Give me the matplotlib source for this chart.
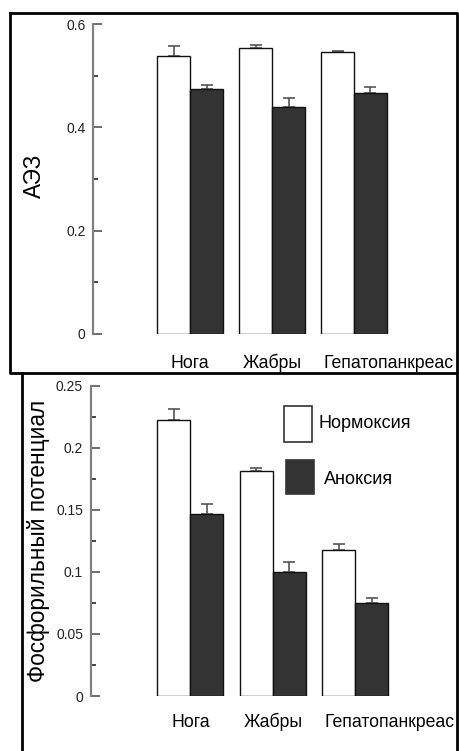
import matplotlib
matplotlib.use("Agg")
import matplotlib.pyplot as plt
import matplotlib.transforms as mtransforms
from matplotlib.patches import Rectangle
from matplotlib.lines import Line2D
from matplotlib import font_manager
import numpy as np

# ---------------- data ----------------
categories = ["Нога", "Жабры", "Гепатопанкреас"]
series_names = ["Нормоксия", "Аноксия"]

aez_norm = [0.539, 0.553, 0.545]
aez_norm_err = [0.019, 0.006, 0.003]
aez_anox = [0.475, 0.440, 0.466]
aez_anox_err = [0.006, 0.017, 0.012]

phos_norm = [0.222, 0.181, 0.118]
phos_norm_err = [0.009, 0.003, 0.0043]
phos_anox = [0.147, 0.100, 0.075]
phos_anox_err = [0.008, 0.008, 0.004]

aez_ticks = [0, 0.2, 0.4, 0.6]
aez_ticklabels = ["0", "0.2", "0.4", "0.6"]
phos_ticks = [0, 0.05, 0.1, 0.15, 0.2, 0.25]
phos_ticklabels = ["0", "0.05", "0.1", "0.15", "0.2", "0.25"]

# ---------------- fonts ----------------
names = {f.name for f in font_manager.fontManager.ttflist}
narrow = "Liberation Sans Narrow" if "Liberation Sans Narrow" in names else "Liberation Sans"
regular = "Liberation Sans"
plt.rcParams['font.family'] = [regular, 'DejaVu Sans']

W, H = 459, 751
fig = plt.figure(figsize=(W / 100, H / 100), dpi=100)

WHITE = "#ffffff"
DARK = "#333333"
AXC = "#808080"

def px_ax(left, bottom_px, right, top_px):
    return [left / W, 1 - bottom_px / H, (right - left) / W, (bottom_px - top_px) / H]

def draw_panel(ax, norm, norm_err, anox, anox_err, ticks, ticklabels, ymax, minor_step,
               ylabel, xleft, third_shift, xpad):
    x = np.arange(len(categories))
    w = 0.4
    ax.bar(x - w / 2, norm, w, color=WHITE, edgecolor="#111111", linewidth=1.0, zorder=2)
    ax.bar(x + w / 2, anox, w, color=DARK, edgecolor="#111111", linewidth=1.0, zorder=2)
    ax.errorbar(x - w / 2, norm, yerr=[np.zeros(3), norm_err], fmt="none",
                ecolor="#555555", elinewidth=1.2, capsize=4, capthick=1.2, zorder=1)
    ax.errorbar(x + w / 2, anox, yerr=[np.zeros(3), anox_err], fmt="none",
                ecolor="#555555", elinewidth=1.2, capsize=4, capthick=1.2, zorder=1)
    ax.set_ylim(0, ymax)
    ax.set_xlim(xleft, xleft + (457 - 93) / 82)
    for s in ["top", "right", "bottom"]:
        ax.spines[s].set_visible(False)
    ax.spines["left"].set_color(AXC)
    ax.spines["left"].set_linewidth(1.6)
    ax.set_yticks(ticks)
    ax.set_yticklabels(ticklabels, fontsize=10, family=regular, color="#222222")
    ax.set_yticks(np.arange(minor_step, ymax, minor_step * 2), minor=True)
    ax.tick_params(axis="y", which="major", direction="in", length=6.5, width=1.2,
                   color="#555555", pad=5.5)
    ax.tick_params(axis="y", which="minor", direction="in", length=3.5, width=1.2,
                   color="#222222")
    ax.set_xticks(x)
    ax.set_xticklabels(categories, fontsize=12.7, family=narrow)
    ax.tick_params(axis="x", length=0, pad=xpad)
    labs = ax.get_xticklabels()
    for lab in labs:
        lab.set_va("baseline")
    off = mtransforms.ScaledTranslation(third_shift / 100, 0, fig.dpi_scale_trans)
    labs[2].set_transform(labs[2].get_transform() + off)
    ax.set_ylabel(ylabel, fontsize=16.3, family=regular)
    ax.yaxis.label.set_va("center")

# top panel
ax1 = fig.add_axes(px_ax(93.3, 334, 457, 24))
draw_panel(ax1, aez_norm, aez_norm_err, aez_anox, aez_anox_err, aez_ticks, aez_ticklabels,
           0.6, 0.1, "АЭЗ", -(190.3 - 93.3) / 82, 34, 24.5)
ax1.yaxis.set_label_coords(-0.163, 0.51)

# bottom panel
ax2 = fig.add_axes(px_ax(90.7, 696, 457, 385.7))
draw_panel(ax2, phos_norm, phos_norm_err, phos_anox, phos_anox_err, phos_ticks, phos_ticklabels,
           0.25, 0.025, "Фосфорильный потенциал", -(189.7 - 90.7) / 82, 34, 22.5)
ax2.yaxis.set_label_coords(-0.142, 0.5)

# legend (manual, in figure pixels)
def fig_rect(x0, y0, x1, y1, fc):
    fig.patches.append(Rectangle((x0 / W, 1 - y1 / H), (x1 - x0) / W, (y1 - y0) / H,
                                 transform=fig.transFigure, facecolor=fc,
                                 edgecolor="#333333", linewidth=1.2))

fig_rect(284, 406, 312, 441.7, WHITE)
fig_rect(285.7, 460, 313.7, 494.3, DARK)
fig.text(319 / W, 1 - 424 / H, series_names[0], fontsize=13, family=narrow, va="center", ha="left")
fig.text(324 / W, 1 - 479 / H, series_names[1], fontsize=13, family=narrow, va="center", ha="left")

# frame lines
def fline(xs, ys, lw=2.0):
    fig.lines.append(Line2D([v / W for v in xs], [1 - v / H for v in ys],
                            transform=fig.transFigure, color="black", linewidth=lw))

fline([9.5, 457, 457, 9.5, 9.5], [12.5, 12.5, 373, 373, 12.5])
fline([22, 22], [373, 751])
fline([457, 457], [373, 751])

fig.savefig("out.png", dpi=100)
